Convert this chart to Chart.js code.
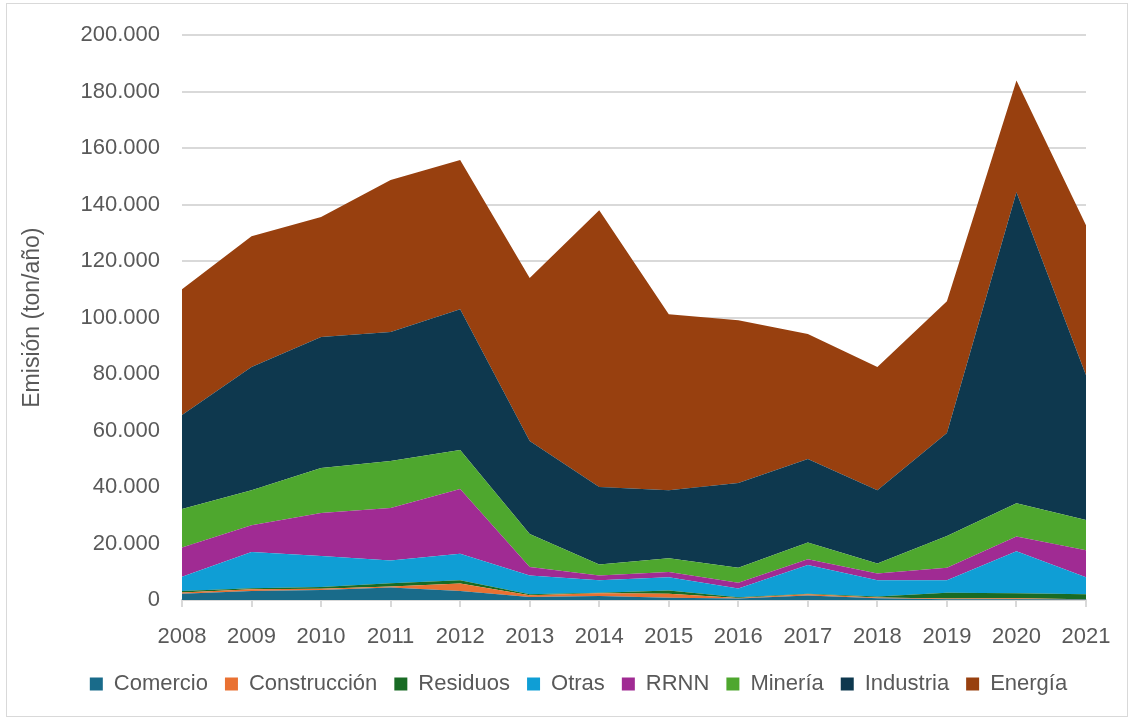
<!DOCTYPE html>
<html>
<head>
<meta charset="utf-8">
<script src="https://cdn.jsdelivr.net/npm/chart.js@4"></script>
<style>
  body { margin: 0; background: #fff; }
  .frame {
    position: absolute;
    left: 6px; top: 3px;
    width: 1120px; height: 712px;
    border: 1px solid #d9d9d9;
  }
  canvas { position: absolute; left: 0; top: 0; }
</style>
</head>
<body>
<div class="frame"></div>
<canvas id="chart" width="1133" height="719"></canvas>
<script>
const years = ['2008', '2009', '2010', '2011', '2012', '2013', '2014', '2015', '2016', '2017', '2018', '2019', '2020', '2021'];

// ton/año por sector (apiladas de abajo hacia arriba)
const comercio     = [2200, 3200, 3500, 4400, 3200, 1100, 1400, 800, 500, 1600, 600, 300, 300, 200];
const construccion = [500, 600, 500, 400, 2600, 600, 1000, 1400, 200, 400, 300, 200, 300, 100];
const residuos     = [500, 400, 600, 1100, 1200, 300, 200, 1200, 300, 200, 300, 2100, 1800, 1700];
const otras        = [5000, 12800, 11000, 8100, 9400, 6700, 4400, 4700, 3100, 10200, 5800, 4400, 14900, 6100];
const rrnn         = [10400, 9500, 15200, 18600, 22900, 3000, 1700, 1800, 2000, 2000, 2400, 4400, 5200, 9500];
const mineria      = [13600, 12400, 15900, 16600, 13800, 11700, 3900, 4900, 5300, 6000, 3500, 11300, 11800, 10700];
const industria    = [33300, 43600, 46400, 45700, 49900, 32900, 27400, 24100, 30000, 29500, 26000, 36400, 110100, 51300];
const energia      = [44500, 46300, 42500, 53800, 52800, 57700, 98000, 62300, 57700, 44300, 43600, 46700, 39600, 53100];

const series = [
  { label: 'Comercio', data: comercio, color: '#196b8a' },
  { label: 'Construcción', data: construccion, color: '#e97132' },
  { label: 'Residuos', data: residuos, color: '#196b24' },
  { label: 'Otras', data: otras, color: '#0f9ed5' },
  { label: 'RRNN', data: rrnn, color: '#a02b93' },
  { label: 'Minería', data: mineria, color: '#4ea72e' },
  { label: 'Industria', data: industria, color: '#0e384e' },
  { label: 'Energía', data: energia, color: '#98400f' }
];

const gridColor = '#d9d9d9';
const textColor = '#595959';
const fontFamily = '"Liberation Sans", Arial, sans-serif';

function formatThousands(v) {
  return String(v).replace(/\B(?=(\d{3})+(?!\d))/g, '.');
}

new Chart(document.getElementById('chart'), {
  type: 'line',
  data: {
    labels: years,
    datasets: series.map((s, i) => ({
      label: s.label,
      data: s.data,
      backgroundColor: s.color,
      borderColor: s.color,
      borderWidth: 0,
      pointRadius: 0,
      tension: 0,
      fill: i === 0 ? 'origin' : '-1'
    }))
  },
  options: {
    responsive: false,
    animation: false,
    // left padding is wide so the legend sits right of centre, as in the original
    layout: { padding: { left: 71, top: 34, right: 47, bottom: 14 } },
    plugins: {
      tooltip: { enabled: false },
      legend: {
        position: 'bottom',
        labels: {
          boxWidth: 13,
          boxHeight: 13,
          padding: 17,
          color: textColor,
          font: { family: fontFamily, size: 22 }
        }
      }
    },
    scales: {
      x: {
        offset: false,
        grid: { drawOnChartArea: false, drawTicks: true, tickLength: 7, color: gridColor, lineWidth: 2 },
        border: { display: true, color: gridColor, width: 2 },
        ticks: { color: textColor, padding: 17, maxRotation: 0, font: { family: fontFamily, size: 22 } },
        afterFit: (scale) => { scale.height = 56; }
      },
      y: {
        stacked: true,
        min: 0,
        max: 200000,
        grid: { color: gridColor, lineWidth: 2, drawTicks: false },
        border: { display: false },
        ticks: {
          stepSize: 20000,
          color: textColor,
          padding: 22,
          font: { family: fontFamily, size: 22 },
          callback: (v) => formatThousands(v)
        },
        title: {
          display: true,
          text: 'Emisión (ton/año)',
          color: textColor,
          padding: { top: -52, bottom: 0 },
          font: { family: fontFamily, size: 23 }
        },
        afterFit: (scale) => { scale.width = 111; }
      }
    }
  }
});
</script>
</body>
</html>
